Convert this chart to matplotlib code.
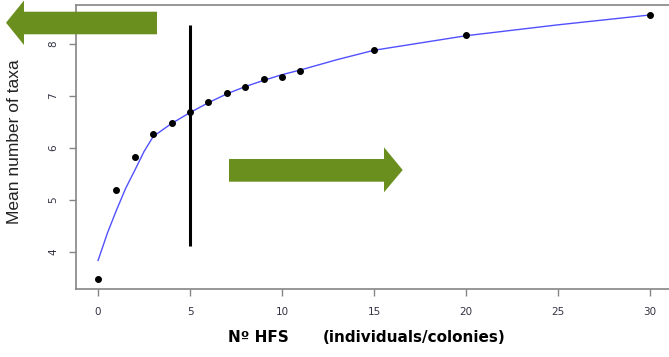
import matplotlib
matplotlib.use("Agg")
import matplotlib.pyplot as plt
from matplotlib.patches import Polygon

# observed mean number of taxa per number of HFS
n_hfs = [0, 1, 2, 3, 4, 5, 6, 7, 8, 9, 10, 11, 15, 20, 30]
mean_taxa = [3.48, 5.19, 5.83, 6.26, 6.48, 6.69, 6.88, 7.06, 7.18, 7.33, 7.36, 7.48, 7.88, 8.17, 8.56]

# fitted curve
fit_x = [0, 0.5, 1, 1.5, 2, 2.5, 3, 4, 5, 6, 7, 8, 9, 10, 11, 12, 13, 14, 15, 17.5, 20, 25, 30]
fit_y = [3.83, 4.35, 4.80, 5.22, 5.57, 5.93, 6.22, 6.47, 6.68, 6.87, 7.04, 7.18, 7.30, 7.41,
         7.50, 7.60, 7.70, 7.79, 7.88, 8.02, 8.16, 8.37, 8.56]

# threshold marker
cut_x = 5
cut_lo, cut_hi = 4.1, 8.37

W, H = 669, 357
fig = plt.figure(figsize=(W / 100, H / 100), dpi=100)
ax = fig.add_axes([76 / W, 1 - 289 / H, (672 - 76) / W, (289 - 4.6) / H])

ax.plot(fit_x, fit_y, color="#5050ff", lw=1.0, zorder=2)
ax.plot(n_hfs, mean_taxa, "o", color="black", ms=4, zorder=3)
ax.vlines(cut_x, cut_lo, cut_hi, color="black", lw=2.2, zorder=4)

ax.set_xlim(-1.2, 31.2)
ax.set_ylim(3.28, 8.76)
ax.set_xticks([0, 5, 10, 15, 20, 25, 30])
ax.set_yticks([4, 5, 6, 7, 8])

for s in ax.spines.values():
    s.set_color("#858585")
    s.set_linewidth(1.2)
ax.spines["right"].set_visible(False)
ax.tick_params(colors="#858585", length=5, width=1, labelcolor="#333344", labelsize=7.5, pad=8)
for lab in ax.get_yticklabels():
    lab.set_rotation(90)
    lab.set_va("center")

fig.text(15 / W, 1 - 142 / H, "Mean number of taxa", rotation=90, ha="center", va="center",
         fontsize=12.5, family="Liberation Sans", color="#222222")
fig.text(228 / W, 1 - 338 / H, "Nº HFS", ha="left", va="center",
         fontsize=11, fontweight="bold", family="DejaVu Sans", color="black")
fig.text(323 / W, 1 - 338 / H, "(individuals/colonies)", ha="left", va="center",
         fontsize=11, fontweight="bold", family="DejaVu Sans", color="black")

# decorative arrows (pixel coords)
green = "#6b8f1f"
left_arrow = [(157, 11.7), (24, 11.7), (24, 0.5), (6, 22.7), (24, 45), (24, 34.3), (157, 34.3)]
right_arrow = [(229, 159), (384, 159), (384, 147.3), (402.7, 170), (384, 192.3), (384, 181.7), (229, 181.7)]
for pts in (left_arrow, right_arrow):
    fig.patches.append(Polygon([(x / W, 1 - y / H) for x, y in pts], closed=True,
                               transform=fig.transFigure, facecolor=green, edgecolor="none", zorder=10))

fig.savefig("out.png", dpi=100)
